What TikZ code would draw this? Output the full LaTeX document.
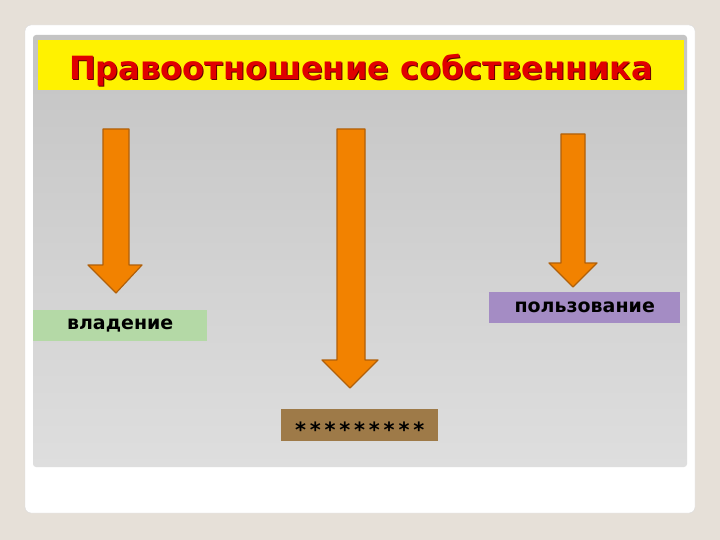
\documentclass[tikz,border=0pt]{standalone}
\usepackage{fontspec}
\setmainfont{DejaVu Sans}
\usetikzlibrary{positioning}
\definecolor{pagebg}{HTML}{E6E0D8}
\definecolor{paneltop}{HTML}{C4C4C4}
\definecolor{panelbot}{HTML}{DEDEDE}
\definecolor{titlered}{HTML}{E00000}
\definecolor{arrfill}{HTML}{F28200}
\definecolor{arredge}{HTML}{B0600A}
\definecolor{boxgreen}{HTML}{B4D9A6}
\definecolor{boxviolet}{HTML}{A48CC4}
\definecolor{boxbrown}{HTML}{9E7A48}
\tikzset{
  labelbox/.style={anchor=north west,inner sep=0pt},
  labeltext/.style={font=\bfseries\fontsize{19}{22}\selectfont},
  startext/.style={font=\bfseries\fontsize{21}{24}\selectfont\addfontfeature{LetterSpace=18}},
  titletext/.style={font=\bfseries\fontsize{32}{36}\selectfont},
  blockarr/.style={fill=arrfill,draw=arredge,line width=1.2pt,line join=round}
}
\begin{document}
\begin{tikzpicture}[x=1pt,y=-1pt]
				\fill[pagebg] (0,0) rectangle (720,540);
				\useasboundingbox (0,0) rectangle (720,540);
				\fill[white,draw=black!15,rounded corners=6pt] (25,25) rectangle (695,513);
				\shade[top color=paneltop,bottom color=panelbot,rounded corners=3pt] (33,35) rectangle (687,467);
				\fill[yellow] (38,40) rectangle (684,90);
				% title
				\node[text=red!40!black,titletext] at (362,71)
					{Правоотношение собственника};
				\node[text=titlered,titletext] (title) at (361,70)
					{Правоотношение собственника};
				% arrows
				\draw[blockarr] (103,129) -- (129,129) -- (129,265) -- (142,265) -- (116,293)
					-- (88,265) -- (103,265) -- cycle;
				\draw[blockarr] (337,129) -- (365,129) -- (365,360) -- (378,360) -- (350,388)
					-- (322,360) -- (337,360) -- cycle;
				\draw[blockarr] (561,134) -- (585,134) -- (585,263) -- (597,263) -- (573,287)
					-- (549,263) -- (561,263) -- cycle;
				% boxes
				\node[labelbox,fill=boxgreen,minimum width=174pt,minimum height=31pt] (own) at (33,310) {};
				\node[labeltext] at (own.center) {владение};
				\node[labelbox,fill=boxviolet,minimum width=191pt,minimum height=31pt] (use) at (489,292) {};
				\node[labeltext] at (use.center) {пользование};
				\node[labelbox,fill=boxbrown,minimum width=157pt,minimum height=32pt] (disp) at (281,409) {};
				\node[startext] at ([yshift=-5pt]disp.center) {*********};
			\end{tikzpicture}
\end{document}
